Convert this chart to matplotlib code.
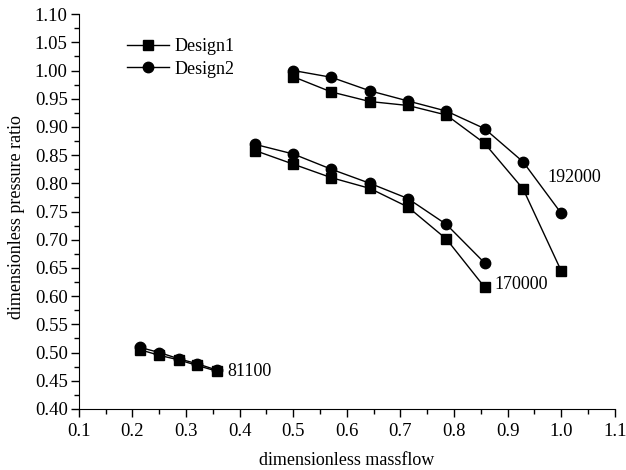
import matplotlib
matplotlib.use("Agg")
import matplotlib.pyplot as plt
from matplotlib.ticker import MultipleLocator, FormatStrFormatter

plt.rcParams['font.family'] = ['Liberation Serif', 'DejaVu Serif']

x_81100 = [0.214, 0.250, 0.286, 0.321, 0.357]
d1_81100 = [0.505, 0.495, 0.487, 0.477, 0.467]
d2_81100 = [0.509, 0.500, 0.489, 0.480, 0.469]

x_170000 = [0.429, 0.500, 0.571, 0.643, 0.714, 0.786, 0.857]
d1_170000 = [0.858, 0.834, 0.810, 0.791, 0.758, 0.701, 0.616]
d2_170000 = [0.869, 0.852, 0.825, 0.800, 0.773, 0.727, 0.659]

x_192000 = [0.500, 0.571, 0.643, 0.714, 0.786, 0.857, 0.929, 1.000]
d1_192000 = [0.989, 0.962, 0.945, 0.938, 0.921, 0.871, 0.790, 0.645]
d2_192000 = [1.000, 0.988, 0.964, 0.946, 0.928, 0.897, 0.838, 0.747]

speed_labels = ["81100", "170000", "192000"]
label_pos = [(0.378, 0.467), (0.876, 0.621), (0.975, 0.811)]

fig = plt.figure(figsize=(6.26, 4.70), dpi=100)
ax = fig.add_axes([0.126, 0.130, 0.856, 0.840])

sq = dict(color='black', marker='s', markersize=6.5, linewidth=1.0)
ci = dict(color='black', marker='o', markersize=7.5, linewidth=1.0)

l1, = ax.plot(x_192000, d1_192000, **sq)
l2, = ax.plot(x_192000, d2_192000, **ci)
ax.plot(x_170000, d1_170000, **sq)
ax.plot(x_170000, d2_170000, **ci)
ax.plot(x_81100, d1_81100, **sq)
ax.plot(x_81100, d2_81100, **ci)

for t, (px, py) in zip(speed_labels, label_pos):
    ax.text(px, py, t, fontsize=13, va='center', ha='left')

ax.set_xlim(0.1, 1.1)
ax.set_ylim(0.40, 1.10)
ax.xaxis.set_major_locator(MultipleLocator(0.1))
ax.xaxis.set_minor_locator(MultipleLocator(0.05))
ax.yaxis.set_major_locator(MultipleLocator(0.05))
ax.yaxis.set_minor_locator(MultipleLocator(0.025))
ax.xaxis.set_major_formatter(FormatStrFormatter('%.1f'))
ax.yaxis.set_major_formatter(FormatStrFormatter('%.2f'))
ax.spines['top'].set_visible(False)
ax.spines['right'].set_visible(False)
ax.tick_params(which='major', direction='out', length=6, width=1, labelsize=13.5)
ax.tick_params(axis='x', which='major', pad=4)
ax.tick_params(axis='y', which='major', pad=2)
ax.tick_params(which='minor', direction='out', length=3.5, width=1)

ax.set_xlabel('dimensionless massflow', fontsize=13, labelpad=9)
ax.set_ylabel('dimensionless pressure ratio', fontsize=13, labelpad=7)
ax.yaxis.set_label_coords(-0.1, 0.485)

ax.legend([l1, l2], ['Design1', 'Design2'], loc='upper left',
          bbox_to_anchor=(0.06, 0.98), frameon=False, fontsize=13,
          handlelength=2.3, handletextpad=0.3, labelspacing=0.3)

fig.savefig('out.png', dpi=100)
